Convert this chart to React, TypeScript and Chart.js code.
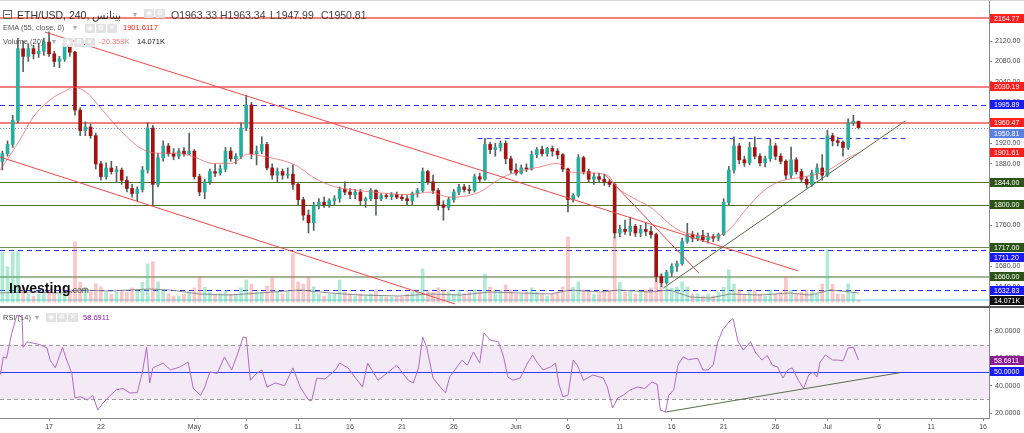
import React, { useEffect, useRef } from "react";
import { Chart, registerables } from "chart.js";

Chart.register(...registerables);

const FONT = "'Liberation Sans', Arial, Helvetica, sans-serif";

// ---------- data (x in days since 1 April, 12h candles) ----------
const CANDLE_START_DAY = 11.5;
const CANDLE_STEP_DAYS = 0.5;

const candleOpen = [
  1885, 1900, 1918, 1965, 2105, 2090, 2105, 2095, 2100, 2118,
  2095, 2080, 2085, 2115, 2098, 1985, 1945, 1952, 1935, 1880,
  1855, 1872, 1865, 1868, 1848, 1832, 1822, 1830, 1868, 1950,
  1840, 1892, 1915, 1900, 1895, 1905, 1900, 1905, 1855, 1825,
  1845, 1865, 1862, 1870, 1905, 1890, 1895, 1950, 1995, 1900,
  1905, 1918, 1872, 1858, 1865, 1858, 1860, 1840, 1810, 1780,
  1765, 1798, 1805, 1800, 1808, 1812, 1830, 1825, 1820, 1825,
  1808, 1812, 1828, 1812, 1818, 1816, 1820, 1815, 1812, 1808,
  1822, 1828, 1865, 1845, 1828, 1800, 1795, 1810, 1825, 1835,
  1830, 1828, 1855, 1850, 1918, 1908, 1912, 1920, 1890, 1868,
  1862, 1872, 1870, 1898, 1908, 1900, 1910, 1905, 1898, 1870,
  1810, 1818, 1892, 1865, 1850, 1855, 1850, 1845, 1840, 1745,
  1752, 1748, 1758, 1745, 1752, 1748, 1742, 1660, 1648, 1668,
  1680, 1685, 1728, 1742, 1735, 1740, 1732, 1738, 1735, 1742,
  1805, 1868, 1915, 1888, 1882, 1912, 1895, 1882, 1890, 1915,
  1895, 1885, 1858, 1888, 1865, 1850, 1840, 1862, 1872, 1858,
  1935, 1925, 1922, 1912, 1960, 1963.33,
];
const candleHigh = [
  1905, 1925, 1975, 2125, 2120, 2115, 2112, 2115, 2125, 2138,
  2100, 2090, 2125, 2122, 2100, 1990, 1962, 1958, 1940, 1885,
  1882, 1885, 1875, 1872, 1855, 1840, 1835, 1875, 1960, 1955,
  1900, 1925, 1920, 1910, 1910, 1912, 1940, 1908, 1860, 1850,
  1870, 1880, 1878, 1912, 1912, 1900, 1960, 2014, 2000, 1915,
  1933, 1922, 1880, 1872, 1870, 1872, 1878, 1842, 1815, 1790,
  1805, 1812, 1815, 1812, 1818, 1835, 1845, 1832, 1830, 1830,
  1815, 1832, 1830, 1822, 1822, 1824, 1825, 1820, 1818, 1825,
  1832, 1872, 1868, 1858, 1832, 1808, 1815, 1830, 1840, 1840,
  1838, 1860, 1862, 1930, 1922, 1920, 1925, 1925, 1895, 1880,
  1878, 1880, 1905, 1912, 1915, 1912, 1915, 1910, 1900, 1872,
  1822, 1898, 1895, 1870, 1862, 1862, 1860, 1850, 1842, 1760,
  1770, 1776, 1762, 1760, 1765, 1758, 1745, 1665, 1672, 1685,
  1690, 1735, 1764, 1748, 1745, 1750, 1745, 1742, 1745, 1812,
  1875, 1933, 1920, 1895, 1922, 1933, 1900, 1895, 1928, 1920,
  1900, 1888, 1913, 1892, 1870, 1855, 1868, 1880, 1898, 1946,
  1940, 1932, 1925, 1968, 1975, 1963.34,
];
const candleLow = [
  1868, 1895, 1912, 1960, 2060, 2080, 2085, 2088, 2092, 2090,
  2070, 2068, 2080, 2090, 1975, 1935, 1935, 1930, 1870, 1848,
  1850, 1860, 1845, 1840, 1825, 1815, 1808, 1825, 1862, 1800,
  1835, 1885, 1895, 1888, 1890, 1895, 1898, 1850, 1818, 1812,
  1840, 1855, 1858, 1865, 1885, 1880, 1890, 1945, 1890, 1878,
  1900, 1868, 1850, 1845, 1850, 1852, 1830, 1800, 1770, 1745,
  1750, 1792, 1795, 1795, 1800, 1805, 1820, 1812, 1812, 1800,
  1795, 1808, 1780, 1808, 1812, 1810, 1812, 1808, 1800, 1800,
  1815, 1825, 1840, 1822, 1790, 1770, 1790, 1805, 1820, 1825,
  1822, 1825, 1845, 1848, 1900, 1895, 1905, 1880, 1862, 1858,
  1860, 1865, 1868, 1892, 1895, 1895, 1895, 1890, 1865, 1786,
  1805, 1815, 1860, 1845, 1840, 1845, 1838, 1835, 1735, 1738,
  1742, 1740, 1738, 1738, 1740, 1735, 1650, 1640, 1645, 1660,
  1670, 1682, 1725, 1728, 1730, 1728, 1725, 1728, 1730, 1740,
  1800, 1862, 1880, 1875, 1878, 1890, 1876, 1874, 1885, 1888,
  1880, 1850, 1852, 1860, 1845, 1833, 1836, 1850, 1848, 1855,
  1915, 1915, 1895, 1908, 1955, 1947.99,
];
const candleClose = [
  1900, 1918, 1965, 2105, 2090, 2105, 2095, 2100, 2118, 2095,
  2080, 2085, 2115, 2098, 1985, 1945, 1952, 1935, 1880, 1855,
  1872, 1865, 1868, 1848, 1832, 1822, 1830, 1868, 1950, 1840,
  1892, 1915, 1900, 1895, 1905, 1900, 1905, 1855, 1825, 1845,
  1865, 1862, 1870, 1905, 1890, 1895, 1950, 1995, 1900, 1905,
  1918, 1872, 1858, 1865, 1858, 1860, 1840, 1810, 1780, 1765,
  1798, 1805, 1800, 1808, 1812, 1830, 1825, 1820, 1825, 1808,
  1812, 1828, 1812, 1818, 1816, 1820, 1815, 1812, 1808, 1822,
  1828, 1865, 1845, 1828, 1800, 1795, 1810, 1825, 1835, 1830,
  1828, 1855, 1850, 1918, 1908, 1912, 1920, 1890, 1868, 1862,
  1872, 1870, 1898, 1908, 1900, 1910, 1905, 1898, 1870, 1810,
  1818, 1892, 1865, 1850, 1855, 1850, 1845, 1840, 1745, 1752,
  1748, 1758, 1745, 1752, 1748, 1742, 1660, 1648, 1668, 1680,
  1685, 1728, 1742, 1735, 1740, 1732, 1738, 1735, 1742, 1805,
  1868, 1915, 1888, 1882, 1912, 1895, 1882, 1890, 1915, 1895,
  1885, 1858, 1888, 1865, 1850, 1840, 1862, 1872, 1858, 1935,
  1925, 1922, 1912, 1960, 1963.33, 1950.81,
];
const volumeK = [
  400, 282, 398, 405, 121, 66, 47, 63, 81, 95,
  78, 65, 82, 97, 482, 158, 118, 83, 146, 121,
  79, 63, 82, 95, 79, 113, 97, 158, 305, 322,
  161, 95, 66, 47, 49, 63, 82, 112, 201, 118,
  81, 63, 66, 95, 64, 62, 113, 177, 143, 80,
  82, 127, 198, 79, 65, 81, 386, 161, 142, 199,
  121, 65, 47, 63, 66, 175, 81, 63, 49, 64,
  47, 65, 97, 49, 41, 39, 42, 40, 63, 81,
  97, 265, 95, 79, 113, 96, 81, 64, 95, 66,
  79, 97, 81, 224, 119, 82, 95, 137, 97, 63,
  66, 79, 113, 82, 64, 47, 63, 81, 121, 522,
  118, 161, 97, 80, 63, 65, 79, 97, 518, 158,
  81, 95, 66, 80, 97, 113, 201, 224, 122, 111,
  119, 162, 121, 64, 66, 48, 63, 49, 81, 118,
  257, 143, 97, 65, 79, 95, 63, 47, 97, 64,
  81, 199, 96, 63, 80, 97, 81, 64, 143, 418,
  142, 65, 63, 146, 79, 14.071,
];
const volMaDays = [
  11.3, 14.2, 17.1, 19.0, 21.9, 25.7, 27.7, 30.5, 33.4, 36.3,
  40.2, 43.1, 46.0, 49.8, 52.7, 55.6, 58.5, 61.4, 64.3, 66.2,
  69.1, 71.0, 73.9, 75.8, 77.8, 79.7, 81.6, 84.5, 87.4, 89.3,
  91.3, 93.2, 94.0,
];
const volMaK = [
  72, 80, 72, 96, 88, 104, 96, 64, 56, 72,
  96, 72, 56, 48, 64, 56, 80, 72, 64, 96,
  80, 96, 80, 96, 40, 32, 64, 56, 72, 56,
  96, 80, 72,
];
const emaDays = [
  11.3, 13.2, 14.5, 16.1, 17.7, 18.3, 19.7, 20.9, 22.2, 23.5,
  24.8, 26.4, 28.3, 29.9, 31.8, 33.6, 35.2, 36.8, 39.7, 41.6,
  43.6, 45.5, 48.1, 50.6, 52.7, 54.6, 57.5, 59.2, 60.7, 63.3,
  65.0, 66.2, 68.2, 69.8, 70.7, 72.7, 73.9, 76.6, 78.3, 79.9,
  81.5, 83.1, 84.7, 86.3, 87.9, 89.6, 91.1, 92.7, 94.0,
];
const emaValues = [
  1868, 1927, 1972, 2005, 2024, 2030, 2018, 1991, 1960, 1933,
  1911, 1901, 1901, 1894, 1881, 1881, 1899, 1894, 1878, 1852,
  1835, 1829, 1823, 1820, 1825, 1815, 1825, 1848, 1862, 1874,
  1881, 1864, 1862, 1858, 1835, 1809, 1796, 1751, 1741, 1737,
  1751, 1790, 1825, 1845, 1852, 1858, 1868, 1888, 1901.61,
];
const rsiDays = [
  11.3, 11.6, 11.9, 12.4, 12.9, 13.4, 13.5, 13.9, 14.5, 15.1,
  15.8, 16.1, 16.6, 17.3, 17.7, 18.2, 18.5, 19.0, 19.7, 20.2,
  20.7, 21.2, 21.9, 22.5, 23.1, 23.8, 24.5, 25.0, 25.4, 25.7,
  26.0, 27.0, 27.7, 28.6, 29.4, 29.9, 30.6, 31.0, 31.5, 32.2,
  32.9, 33.6, 34.2, 34.7, 35.0, 35.4, 36.0, 36.5, 37.0, 37.8,
  38.7, 39.5, 40.2, 41.0, 41.3, 41.8, 42.6, 43.6, 44.0, 44.8,
  46.2, 46.7, 47.7, 48.7, 49.5, 50.6, 51.1, 51.6, 52.0, 52.4,
  53.0, 53.7, 54.2, 54.6, 55.3, 55.8, 56.3, 56.9, 57.5, 57.9,
  58.5, 59.3, 59.8, 60.2, 60.7, 61.4, 62.1, 62.6, 63.0, 63.6,
  64.3, 64.8, 65.1, 65.5, 66.0, 66.5, 66.9, 67.5, 68.4, 69.4,
  69.8, 70.3, 70.8, 71.3, 72.0, 72.7, 73.4, 74.1, 74.6, 74.9,
  75.4, 75.7, 76.2, 76.6, 77.1, 77.6, 78.5, 79.0, 79.5, 80.0,
  80.4, 80.9, 81.5, 81.9, 82.4, 82.9, 83.6, 84.1, 84.7, 85.2,
  85.7, 86.2, 86.7, 87.2, 87.6, 88.2, 88.7, 89.2, 89.6, 90.0,
  90.3, 90.8, 91.5, 92.1, 92.5, 93.0, 93.5, 94.0,
];
const rsiValues = [
  48, 61, 60, 78, 91.5, 90, 68, 72, 71, 70,
  67.5, 58.7, 53, 68, 58.7, 49, 31, 32, 29.6, 33,
  22.3, 27.4, 33, 37, 38, 34.7, 35, 50, 68, 42,
  53, 56.5, 51.5, 53.6, 57.3, 38, 33, 39, 50, 49,
  61, 51.5, 63.8, 75.5, 75, 44, 49, 51.5, 39, 42,
  40, 53, 39, 29.6, 29, 45.6, 45, 51.5, 56.5, 53,
  39, 56.5, 44, 50, 55, 44, 42, 53, 75.5, 67.5,
  45.6, 39, 34.7, 46.4, 53.6, 58.7, 55, 64.6, 56.5, 78.4,
  73.3, 72, 61, 46.4, 44, 45.6, 56.5, 62.4, 57.3, 51.5,
  53.6, 56.5, 42, 32, 33, 58.7, 55, 44, 47.8, 45.6,
  39, 23.8, 31, 33, 37, 39, 38, 42.7, 41, 22.3,
  21, 33, 37, 55, 61, 59, 60, 51.5, 51.5, 55,
  71, 80.6, 86.4, 89, 72, 66, 72, 63.8, 58.7, 62,
  55, 53.6, 45.6, 51.5, 53, 44, 38, 47.8, 50, 46.4,
  57.3, 62.4, 58.7, 58.7, 58, 67.5, 68, 58.69,
];

const xTickDays = [16, 21, 30, 35, 40, 45, 50, 55, 61, 66, 71, 76, 81, 86, 91, 96, 101, 106];
const xTickLabels = ["17", "22", "May", "6", "11", "16", "21", "26", "Jun", "6", "11", "16", "21", "26", "Jul", "6", "11", "16"];
const priceTicks = [1640, 1680, 1720, 1760, 1800, 1840, 1880, 1920, 1960, 2000, 2040, 2080, 2120, 2160];
const rsiTicks = [20, 40, 60, 80];

const levelPrices = [2164.77, 2030.19, 1995.89, 1960.47, 1950.81, 1844.0, 1800.0, 1717.0, 1711.2, 1660.0, 1632.83];
const emaLastValue = 1901.61;
const volumeLastK = 14.071;
const rsiLastValue = 58.6911;
const rsiBand = [70, 30];
const rsiMid = 50;
const shortLevelPrice = 1930.5;
const shortLevelDays = [57.3, 98.5];
const trendFromDays = [15.6, 11.27, 69.6, 75.2];
const trendFromPrices = [2137.6, 1893.5, 1858.3, 1637.6];
const trendToDays = [88.2, 55.1, 78.6, 98.5];
const trendToPrices = [1670.8, 1606.4, 1667.0, 1963.8];
const rsiTrendDays = [75.4, 98.0];
const rsiTrendValues = [20.8, 49.5];

// ---------- view & styles ----------
const X_MIN = 11.274, X_MAX = 106.57;
const PRICE_MIN = 1602.42, PRICE_MAX = 2200.08;
const VOL_MIN = -32, VOL_MAX = 2416;
const RSI_MIN = 16.47, RSI_MAX = 96.65;

const levelStyles = [
  { color: "#f47f7f", width: 2, dash: [] as number[] },
  { color: "#f47f7f", width: 2, dash: [] },
  { color: "#2b2bff", width: 1, dash: [5, 4] },
  { color: "#f47f7f", width: 2, dash: [] },
  { color: "#6d8cf2", width: 1, dash: [1, 2] },
  { color: "#4d7430", width: 1, dash: [] },
  { color: "#4d7430", width: 1, dash: [] },
  { color: "#6f8a55", width: 1, dash: [] },
  { color: "#2b2bff", width: 1, dash: [5, 4] },
  { color: "#a5b596", width: 2, dash: [] },
  { color: "#2b2bff", width: 1, dash: [5, 4] },
];
const levelTagColors = ["#ff1f1f", "#ff1f1f", "#1a1aff", "#ff1f1f", "#5b80e6", "#2d5418", "#2d5418", "#2d5418", "#1a1aff", "#2d5418", "#1a1aff"];
const trendColors = ["#f24848", "#f24848", "#f24848", "#5d6f45"];
const UP = "#26ae9e", DOWN = "#a3120f", WICK = "#56635d";

type Tag = { y: number; text: string; bg: string };

function drawTags(chart: any, tags: Tag[]) {
  const { ctx, chartArea } = chart;
  const left = chartArea.right + 1;
  const right = chart.width;
  const sorted = tags.slice().sort((a, b) => a.y - b.y);
  let prev = -Infinity;
  ctx.save();
  ctx.font = `7px ${FONT}`;
  ctx.textBaseline = "middle";
  ctx.textAlign = "left";
  for (const t of sorted) {
    const yy = Math.max(t.y, prev + 10.5);
    prev = yy;
    const top = Math.round(yy - 4.5);
    ctx.fillStyle = t.bg;
    ctx.fillRect(left, top, right - left, 9);
    ctx.fillStyle = "#fff";
    ctx.fillText(t.text, left + 4, top + 5);
  }
  ctx.restore();
}

function hLine(ctx: any, x1: number, x2: number, y: number, color: string, width: number, dash: number[]) {
  ctx.strokeStyle = color;
  ctx.lineWidth = width;
  ctx.setLineDash(dash);
  const yy = width % 2 === 1 ? Math.round(y) + 0.5 : Math.round(y);
  ctx.beginPath();
  ctx.moveTo(x1, yy);
  ctx.lineTo(x2, yy);
  ctx.stroke();
}

const priceOverlay = {
  id: "priceOverlay",
  beforeDatasetsDraw(chart: any) {
    const { ctx, chartArea: a, scales } = chart;
    const { x, y, yv } = scales;
    ctx.save();
    ctx.beginPath();
    ctx.rect(a.left, a.top, a.right - a.left, a.bottom - a.top);
    ctx.clip();
    levelPrices.forEach((p, i) => {
      const s = levelStyles[i];
      hLine(ctx, a.left, a.right, y.getPixelForValue(p), s.color, s.width, s.dash);
    });
    hLine(ctx, x.getPixelForValue(shortLevelDays[0]), x.getPixelForValue(shortLevelDays[1]),
      y.getPixelForValue(shortLevelPrice), "#3a3aff", 1, [5, 4]);
    hLine(ctx, a.left, a.right, yv.getPixelForValue(volumeLastK), "#a6def0", 1.5, []);
    ctx.restore();
  },
  afterDatasetsDraw(chart: any) {
    const { ctx, chartArea: a, scales } = chart;
    const { x, y } = scales;
    ctx.save();
    ctx.beginPath();
    ctx.rect(a.left, a.top, a.right - a.left, a.bottom - a.top);
    ctx.clip();
    ctx.setLineDash([]);
    ctx.lineWidth = 1;
    trendFromDays.forEach((d, i) => {
      ctx.strokeStyle = trendColors[i];
      ctx.beginPath();
      ctx.moveTo(x.getPixelForValue(d), y.getPixelForValue(trendFromPrices[i]));
      ctx.lineTo(x.getPixelForValue(trendToDays[i]), y.getPixelForValue(trendToPrices[i]));
      ctx.stroke();
    });
    ctx.restore();
  },
  afterDraw(chart: any) {
    const { ctx, scales } = chart;
    const { y, yv } = scales;
    ctx.save();
    ctx.fillStyle = "#d4d4d4";
    ctx.fillRect(0, 0, chart.width, 1);
    ctx.restore();
    const tags: Tag[] = levelPrices.map((p, i) => ({ y: y.getPixelForValue(p), text: p.toFixed(2), bg: levelTagColors[i] }));
    tags.push({ y: y.getPixelForValue(emaLastValue), text: emaLastValue.toFixed(2), bg: "#ff1f1f" });
    tags.push({ y: yv.getPixelForValue(volumeLastK), text: volumeLastK.toFixed(3) + "K", bg: "#111" });
    drawTags(chart, tags);
  },
};

const rsiOverlay = {
  id: "rsiOverlay",
  beforeDatasetsDraw(chart: any) {
    const { ctx, chartArea: a, scales } = chart;
    const { y } = scales;
    const yTop = y.getPixelForValue(rsiBand[0]);
    const yBot = y.getPixelForValue(rsiBand[1]);
    ctx.save();
    ctx.fillStyle = "rgba(150, 60, 175, 0.11)";
    ctx.fillRect(a.left, yTop, a.right - a.left, yBot - yTop);
    hLine(ctx, a.left, a.right, yTop, "#9c9c9c", 1, [4, 3]);
    hLine(ctx, a.left, a.right, yBot, "#9c9c9c", 1, [4, 3]);
    hLine(ctx, a.left, a.right, y.getPixelForValue(rsiMid), "#3b3bff", 1, []);
    ctx.restore();
  },
  afterDatasetsDraw(chart: any) {
    const { ctx, chartArea: a, scales } = chart;
    const { x, y } = scales;
    ctx.save();
    ctx.beginPath();
    ctx.rect(a.left, a.top, a.right - a.left, a.bottom - a.top);
    ctx.clip();
    ctx.strokeStyle = "#5d6f45";
    ctx.lineWidth = 1;
    ctx.beginPath();
    ctx.moveTo(x.getPixelForValue(rsiTrendDays[0]), y.getPixelForValue(rsiTrendValues[0]));
    ctx.lineTo(x.getPixelForValue(rsiTrendDays[1]), y.getPixelForValue(rsiTrendValues[1]));
    ctx.stroke();
    ctx.restore();
  },
  afterDraw(chart: any) {
    const { ctx, scales } = chart;
    const { y } = scales;
    ctx.save();
    ctx.fillStyle = "#5a5a5a";
    ctx.fillRect(0, 0, chart.width, 2);
    ctx.restore();
    drawTags(chart, [
      { y: y.getPixelForValue(rsiLastValue), text: rsiLastValue.toFixed(4), bg: "#8a1c8f" },
      { y: y.getPixelForValue(rsiMid), text: rsiMid.toFixed(4), bg: "#1a1aff" },
    ]);
  },
};

const tickFont = { family: FONT, size: 7 };

function Icons({ left, top, glyphs }: { left: number; top: number; glyphs: string[] }) {
  return (
    <>
      {glyphs.map((g, i) => (
        <span
          key={i}
          style={{
            position: "absolute", left: left + i * 11, top, width: 10, height: 9,
            background: "#e2e2e2", borderRadius: 1, color: "#fff", fontSize: 7,
            lineHeight: "9px", textAlign: "center", fontFamily: "'DejaVu Sans', sans-serif",
          }}
        >{g}</span>
      ))}
    </>
  );
}

function T({ left, top, size, color, children, bold }: any) {
  return (
    <span style={{
      position: "absolute", left, top, fontSize: size, lineHeight: 1, color,
      whiteSpace: "nowrap", fontFamily: FONT, fontWeight: bold ? "bold" : "normal",
      direction: "ltr", unicodeBidi: "isolate",
    }}>{children}</span>
  );
}

export default function App() {
  const priceRef = useRef<HTMLCanvasElement>(null);
  const rsiRef = useRef<HTMLCanvasElement>(null);

  useEffect(() => {
    const candleDays = candleClose.map((_, i) => CANDLE_START_DAY + i * CANDLE_STEP_DAYS);
    const upFlags = candleClose.map((c, i) => c >= candleOpen[i]);

    const priceChart = new Chart(priceRef.current as HTMLCanvasElement, {
      type: "bar",
      data: {
        datasets: [
          {
            type: "line", label: "EMA 55",
            data: emaDays.map((d, i) => ({ x: d, y: emaValues[i] })),
            yAxisID: "y", borderColor: "rgba(238, 100, 100, 0.75)", borderWidth: 1,
            pointRadius: 0, cubicInterpolationMode: "monotone", order: 0,
          } as any,
          {
            type: "bar", label: "Body",
            data: candleDays.map((d, i) => ({ x: d, y: [candleOpen[i], candleClose[i]] })),
            yAxisID: "y", backgroundColor: upFlags.map((u) => (u ? UP : DOWN)),
            barThickness: 3, minBarLength: 1, grouped: false, borderWidth: 0, order: 1,
          } as any,
          {
            type: "bar", label: "Wick",
            data: candleDays.map((d, i) => ({ x: d, y: [candleLow[i], candleHigh[i]] })),
            yAxisID: "y", backgroundColor: WICK, barThickness: 1, grouped: false, borderWidth: 0, order: 2,
          } as any,
          {
            type: "line", label: "Volume MA",
            data: volMaDays.map((d, i) => ({ x: d, y: volMaK[i] })),
            yAxisID: "yv", borderColor: "rgba(125,125,125,0.85)", borderWidth: 1,
            pointRadius: 0, order: 3,
          } as any,
          {
            type: "bar", label: "Volume",
            data: candleDays.map((d, i) => ({ x: d, y: volumeK[i] })),
            yAxisID: "yv",
            backgroundColor: upFlags.map((u) => (u ? "rgba(70, 205, 150, 0.42)" : "rgba(242, 105, 105, 0.38)")),
            barThickness: 3, grouped: false, borderWidth: 0, order: 4,
          } as any,
        ],
      },
      options: {
        responsive: false, animation: false, devicePixelRatio: 1, events: [],
        layout: { padding: 0 },
        plugins: { legend: { display: false }, tooltip: { enabled: false } },
        scales: {
          x: { type: "linear", min: X_MIN, max: X_MAX, display: false, offset: false },
          y: {
            type: "linear", position: "right", min: PRICE_MIN, max: PRICE_MAX,
            afterBuildTicks: (s: any) => { s.ticks = priceTicks.map((v) => ({ value: v })); },
            afterFit: (s: any) => { s.width = 35; s.paddingTop = 0; s.paddingBottom = 0; },
            ticks: { font: tickFont, color: "#4a4a4a", padding: 3, callback: (v: any) => Number(v).toFixed(2) },
            grid: { drawOnChartArea: false, drawTicks: true, tickLength: 3, color: "#8a8a8a" },
            border: { display: true, color: "#8a8a8a" },
          },
          yv: { type: "linear", display: false, min: VOL_MIN, max: VOL_MAX },
        },
      } as any,
      plugins: [priceOverlay],
    });

    const rsiChart = new Chart(rsiRef.current as HTMLCanvasElement, {
      type: "line",
      data: {
        datasets: [
          {
            label: "RSI 14",
            data: rsiDays.map((d, i) => ({ x: d, y: rsiValues[i] })),
            borderColor: "#b36ac6", borderWidth: 1, pointRadius: 0,
          },
        ],
      },
      options: {
        responsive: false, animation: false, devicePixelRatio: 1, events: [],
        layout: { padding: { top: 2, left: 0, right: 0, bottom: 0 } },
        plugins: { legend: { display: false }, tooltip: { enabled: false } },
        scales: {
          x: {
            type: "linear", min: X_MIN, max: X_MAX, offset: false,
            afterBuildTicks: (s: any) => { s.ticks = xTickDays.map((v) => ({ value: v })); },
            afterFit: (s: any) => { s.height = 15; s.paddingLeft = 0; s.paddingRight = 0; },
            ticks: {
              font: tickFont, color: "#4a4a4a", padding: 2, autoSkip: false, maxRotation: 0, minRotation: 0,
              callback: (_v: any, i: number) => xTickLabels[i],
            },
            grid: { drawOnChartArea: false, drawTicks: true, tickLength: 3, color: "#8a8a8a" },
            border: { display: true, color: "#8a8a8a" },
          },
          y: {
            type: "linear", position: "right", min: RSI_MIN, max: RSI_MAX,
            afterBuildTicks: (s: any) => { s.ticks = rsiTicks.map((v) => ({ value: v })); },
            afterFit: (s: any) => { s.width = 35; s.paddingTop = 0; s.paddingBottom = 0; },
            ticks: { font: tickFont, color: "#4a4a4a", padding: 3, callback: (v: any) => Number(v).toFixed(4) },
            grid: { drawOnChartArea: false, drawTicks: true, tickLength: 3, color: "#8a8a8a" },
            border: { display: true, color: "#8a8a8a" },
          },
        },
      } as any,
      plugins: [rsiOverlay],
    });

    return () => {
      priceChart.destroy();
      rsiChart.destroy();
    };
  }, []);

  return (
    <div style={{ position: "absolute", left: 0, top: 0, width: 1024, height: 433, background: "#fff", overflow: "hidden" }}>
      <canvas ref={priceRef} width={1024} height={306} style={{ position: "absolute", left: 0, top: 0, width: 1024, height: 306 }} />
      <canvas ref={rsiRef} width={1024} height={127} style={{ position: "absolute", left: 0, top: 306, width: 1024, height: 127 }} />

      {/* collapse box */}
      <div style={{ position: "absolute", left: 3, top: 10, width: 7, height: 7, border: "1px solid #666" }}>
        <div style={{ position: "absolute", left: 1, top: 3, width: 5, height: 1, background: "#666" }} />
      </div>
      <T left={17} top={9.5} size={10.5} color="#333">
        ETH/USD, 240, <bdi dir="rtl">بينانس</bdi>
      </T>
      <T left={133} top={11} size={8} color="#aaa">▾</T>
      <Icons left={144} top={9} glyphs={["◉", "⚙"]} />
      <T left={171} top={9.5} size={10.5} color="#444">O1963.33</T>
      <T left={220} top={9.5} size={10.5} color="#444">H1963.34</T>
      <T left={270} top={9.5} size={10.5} color="#444">L1947.99</T>
      <T left={321} top={9.5} size={10.5} color="#444">C1950.81</T>

      <T left={3} top={24.1} size={7.5} color="#555">EMA (55, close, 0)</T>
      <T left={73} top={24} size={7.5} color="#aaa">▾</T>
      <Icons left={85} top={23.5} glyphs={["◉", "⚙", "✕"]} />
      <T left={123} top={24.1} size={7.5} color="#ff2020">1901.6117</T>

      <T left={3} top={38} size={7.5} color="#555">Volume (20)</T>
      <T left={52} top={38} size={7.5} color="#aaa">▾</T>
      <Icons left={63} top={37.5} glyphs={["◉", "⚙", "✕"]} />
      <T left={99} top={38} size={7.5} color="#f27878">-20.358K</T>
      <T left={137} top={38} size={7.5} color="#222">14.071K</T>

      <T left={3} top={314.1} size={7.5} color="#555">RSI (14)</T>
      <T left={35} top={314} size={7.5} color="#aaa">▾</T>
      <Icons left={46} top={313} glyphs={["◉", "⚙", "✕"]} />
      <T left={83} top={314.1} size={7.5} color="#8e24aa">58.6911</T>

      <span style={{ position: "absolute", left: 9, top: 281.2, fontSize: 14, lineHeight: 1, fontWeight: "bold", color: "#111", fontFamily: FONT, whiteSpace: "nowrap" }}>
        Investing<span style={{ fontSize: 8.5, fontWeight: "normal", color: "#555" }}>.com</span>
      </span>
    </div>
  );
}
